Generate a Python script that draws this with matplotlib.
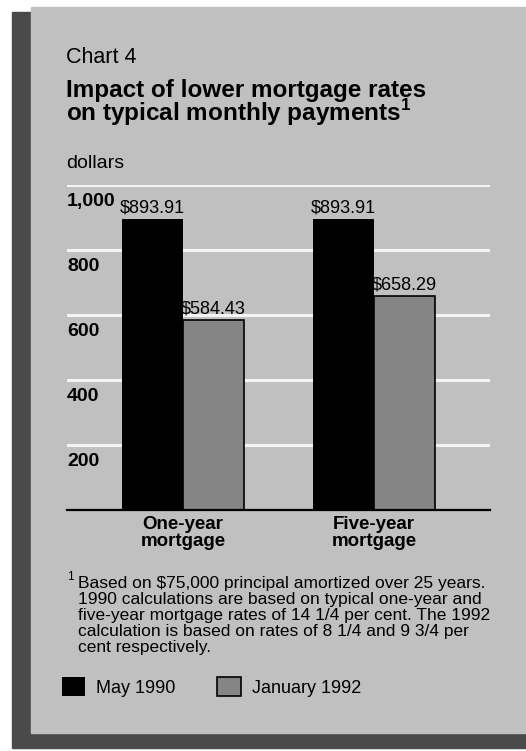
import matplotlib
matplotlib.use("Agg")
import matplotlib.pyplot as plt
from matplotlib.patches import Rectangle
import numpy as np

plt.rcParams['font.family'] = ['Liberation Sans', 'DejaVu Sans']
plt.rcParams['mathtext.fontset'] = 'custom'
plt.rcParams['mathtext.rm'] = 'Liberation Sans'
plt.rcParams['mathtext.bf'] = 'Liberation Sans:bold'

categories = ["One-year\nmortgage", "Five-year\nmortgage"]
may_1990 = [893.91, 893.91]
jan_1992 = [584.43, 658.29]
series_names = ["May 1990", "January 1992"]
y_ticks = [200, 400, 600, 800, 1000]
y_tick_labels = ["200", "400", "600", "800", "1,000"]

footnote = ["Based on \\$75,000 principal amortized over 25 years.",
            "1990 calculations are based on typical one-year and",
            "five-year mortgage rates of 14 1/4 per cent. The 1992",
            "calculation is based on rates of 8 1/4 and 9 3/4 per",
            "cent respectively."]

W, H = 526, 751
fig = plt.figure(figsize=(W / 100, H / 100), dpi=100)
fig.patch.set_facecolor("white")


def fx(x):
    return x / W


def fy(y):
    return 1 - y / H


# frame: dark shadow + light panel
fig.patches.append(Rectangle((fx(12), fy(748)), fx(514), (736) / H,
                             transform=fig.transFigure, color="#4a4a4a", zorder=0))
fig.patches.append(Rectangle((fx(31), fy(733)), fx(495), (726) / H,
                             transform=fig.transFigure, color="#c0c0c0", zorder=0))

# titles
fig.text(fx(66), fy(63), "Chart 4", fontsize=15.5, va="baseline")
fig.text(fx(66), fy(79),
         "Impact of lower mortgage rates\n" + r"on typical monthly payments$^{\mathbf{1}}$",
         fontsize=17.5, fontweight="bold", va="top", linespacing=0.8)
fig.text(fx(66), fy(168), "dollars", fontsize=14, va="baseline")

# bars
ax = fig.add_axes([fx(67), fy(510), fx(490 - 67), (510 - 185) / H])
ax.set_zorder(2)
ax.set_facecolor("none")
x = np.arange(len(categories))
w = 0.32
b1 = ax.bar(x - w / 2, may_1990, w, color="black", label=series_names[0], zorder=3)
b2 = ax.bar(x + w / 2, jan_1992, w, color="#858585", edgecolor="black",
            linewidth=1.2, label=series_names[1], zorder=3)
ax.bar_label(b1, labels=["\\$%.2f" % v for v in may_1990], padding=2, fontsize=13)
ax.bar_label(b2, labels=["\\$%.2f" % v for v in jan_1992], padding=2, fontsize=13)

ax.set_xlim(-0.607, 1.607)
ax.set_ylim(0, 1000)
for v, lab in zip(y_ticks, y_tick_labels):
    ax.axhline(v, color="#f4f4f4", linewidth=2.2, zorder=1)
    ax.annotate(lab, (0, v), xycoords=("axes fraction", "data"),
                xytext=(0, -6), textcoords="offset points",
                ha="left", va="top", fontsize=14, fontweight="bold")
ax.set_yticks([])
ax.set_xticks(x)
ax.set_xticklabels(categories, fontsize=13.5, fontweight="bold", linespacing=1.05)
ax.tick_params(axis="x", length=0, pad=4)
for s in ["top", "left", "right"]:
    ax.spines[s].set_visible(False)
ax.spines["bottom"].set_linewidth(1.6)
ax.spines["bottom"].set_zorder(4)

# footnote
fig.text(fx(67), fy(580), "1", fontsize=8.5, va="baseline")
for i, line in enumerate(footnote):
    fig.text(fx(78), fy(588 + i * 16), line, fontsize=12.5, va="baseline")

fig.legend(handles=[b1, b2], labels=series_names, loc="center left",
           bbox_to_anchor=(fx(62), fy(687)), ncol=2, frameon=False, fontsize=13,
           handlelength=1.3, handleheight=1.25, handletextpad=0.6,
           columnspacing=2.3, borderaxespad=0, borderpad=0)

fig.savefig("out.png", dpi=100, facecolor=fig.get_facecolor())
